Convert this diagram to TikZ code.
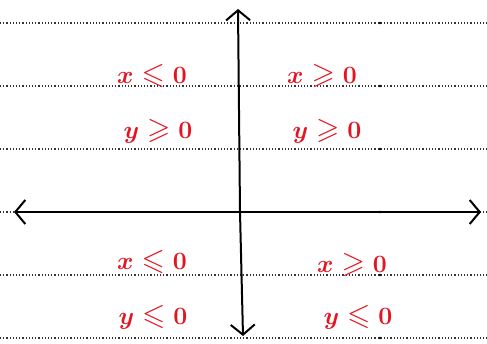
\documentclass[tikz,border=0pt]{standalone}
\usepackage{amssymb}
\usetikzlibrary{arrows.meta}
\definecolor{penred}{RGB}{228,20,32}
\tikzset{
  rule/.style={line width=1.2pt, dotted, black!80},
  axis/.style={line width=2pt, black, -{Straight Barb[length=10pt,width=24pt,line width=2pt]}},
  cond/.style={text=penred, font=\fontsize{30}{32}\selectfont\boldmath, inner sep=0pt}
}
\begin{document}
\begin{tikzpicture}[x=1pt,y=-1pt]
\useasboundingbox (0,0) rectangle (487,344);
% ruled lines
\foreach \yy/\nm in {23/r1,86/r2,149/r3,212/r4,275/r5,338/r6}{
  \coordinate (\nm L) at (0,\yy);
  \coordinate (\nm R) at (487,\yy);
  \draw[rule] (\nm L) -- (\nm R);
  \fill[black] (380,\yy) circle (1.4pt);
}
% axes
\coordinate (O) at (240,212);
\coordinate (xL) at (14,212);
\coordinate (xR) at (481,212);
\coordinate (yT) at (238,9);
\coordinate (yB) at (243,336);
\draw[axis] (O) -- (xR);
\draw[axis] (O) -- (xL);
\draw[axis] (O) -- (yT);
\draw[axis] (O) -- (yB);
% labels
\node[cond] (q2x) at (152,76) {$x \leqslant 0$};
\node[cond] (q2y) at (158,131) {$y \geqslant 0$};
\node[cond] (q1x) at (322,76) {$x \geqslant 0$};
\node[cond] (q1y) at (327,131) {$y \geqslant 0$};
\node[cond] (q3x) at (152,262) {$x \leqslant 0$};
\node[cond] (q3y) at (153,317) {$y \leqslant 0$};
\node[cond] (q4x) at (352,265) {$x \geqslant 0$};
\node[cond] (q4y) at (358,317) {$y \leqslant 0$};
\end{tikzpicture}
\end{document}
